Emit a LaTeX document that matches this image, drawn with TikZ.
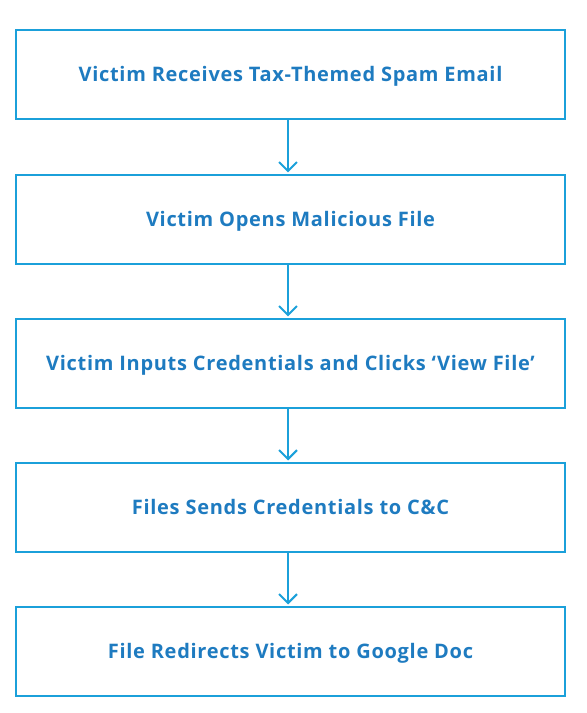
\documentclass[tikz,border=0pt]{standalone}
\usepackage{fontspec}
\setmainfont{Open Sans}[LetterSpace=3.5]
\usetikzlibrary{arrows.meta}
\definecolor{boxblue}{HTML}{1BA0DA}
\definecolor{txtblue}{HTML}{1E7BC0}
\begin{document}
\begin{tikzpicture}[x=1pt,y=1pt,
  stepbox/.style={draw=boxblue,line width=2pt,minimum width=549pt,minimum height=89pt,
    inner sep=0pt,text depth=0pt,text height=15pt,text=txtblue,font=\fontsize{20}{22}\selectfont\bfseries},
  conn/.style={draw=boxblue,line width=2pt,-{Straight Barb[length=9pt,width=18pt,line width=2pt]}}]
\useasboundingbox (0,0) rectangle (587,713);
\node[stepbox] (b1) at (290.5,713-74.5) {Victim Receives Tax-Themed Spam Email};
\node[stepbox] (b2) at (290.5,713-219.5) {Victim Opens Malicious File};
\node[stepbox] (b3) at (290.5,713-363.5) {Victim Inputs Credentials and Clicks ‘View File’};
\node[stepbox] (b4) at (290.5,713-507.5) {Files Sends Credentials to C\&C};
\node[stepbox] (b5) at (290.5,713-651.5) {File Redirects Victim to Google Doc};
\draw[conn] ([xshift=-2.5pt]b1.south) -- ([xshift=-2.5pt,yshift=1.5pt]b2.north);
\draw[conn] ([xshift=-2.5pt]b2.south) -- ([xshift=-2.5pt,yshift=1.5pt]b3.north);
\draw[conn] ([xshift=-2.5pt]b3.south) -- ([xshift=-2.5pt,yshift=1.5pt]b4.north);
\draw[conn] ([xshift=-2.5pt]b4.south) -- ([xshift=-2.5pt,yshift=1.5pt]b5.north);
\end{tikzpicture}
\end{document}
